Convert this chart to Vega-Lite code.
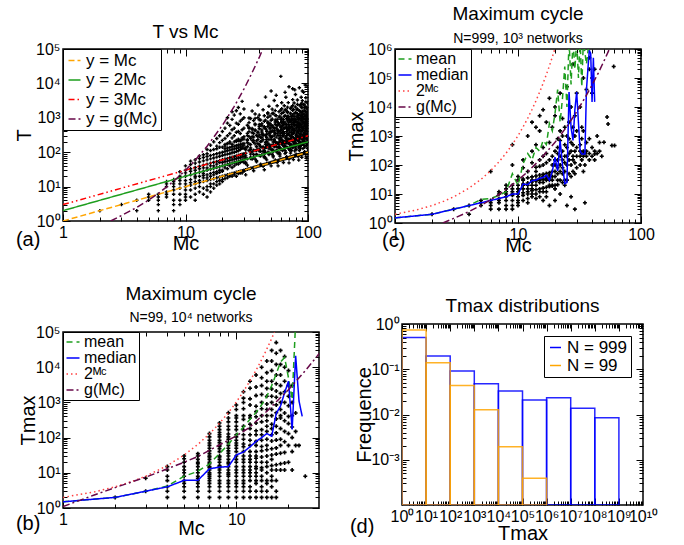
{
"$schema":"https://vega.github.io/schema/vega-lite/v6.json",
"background":"white",
"padding":{"left":13,"top":3,"right":5,"bottom":3},
"config":{
 "font":"Liberation Sans",
 "view":{"stroke":"black","strokeWidth":1.5},
 "axis":{"domain":false,"grid":false,"labelFont":"Liberation Sans","labelFontSize":16,"labelColor":"black","labelPadding":3,"labelOverlap":false,"labelFlush":false,"labelBound":false,"tickColor":"black","tickWidth":1,"titleFont":"Liberation Sans","titleFontSize":20,"titleFontWeight":"normal","titleColor":"black"},
 "title":{"font":"Liberation Sans","fontSize":19,"fontWeight":"normal","color":"black","subtitleFont":"Liberation Sans","subtitleFontSize":14,"subtitleColor":"black","frame":"group","anchor":"middle"},
 "legend":{"labelFont":"Liberation Sans","labelColor":"black","strokeColor":"black","fillColor":"white","padding":3,"symbolType":"stroke","symbolStrokeWidth":1.5,"labelOffset":3}
},
"datasets":{
"ptsA":[
{"x":2,"y":2},{"x":3,"y":3},{"x":4,"y":4},{"x":4,"y":2},{"x":5,"y":5},{"x":5,"y":6},{"x":5,"y":4},
{"x":6,"y":6},{"x":6,"y":5},{"x":6,"y":4},{"x":6,"y":3},{"x":6,"y":2},
{"x":7,"y":7},{"x":7,"y":14},{"x":7,"y":12},{"x":7,"y":10},{"x":7,"y":6},{"x":7,"y":5},
{"x":8,"y":8},{"x":8,"y":16},{"x":8,"y":14},{"x":8,"y":10},{"x":8,"y":6},{"x":8,"y":4},{"x":8,"y":2},{"x":8,"y":12},{"x":8,"y":3},
{"x":9,"y":9},{"x":9,"y":18},{"x":9,"y":27},{"x":9,"y":12},{"x":9,"y":15},{"x":9,"y":6},{"x":9,"y":4},{"x":9,"y":3},{"x":9,"y":20},
{"x":10,"y":10},{"x":10,"y":20},{"x":10,"y":30},{"x":10,"y":15},{"x":10,"y":12},{"x":10,"y":8},{"x":10,"y":5},{"x":10,"y":25},{"x":10,"y":6},{"x":10,"y":40},{"x":10,"y":4},
{"x":11,"y":11},{"x":11,"y":22},{"x":11,"y":33},{"x":11,"y":16},{"x":11,"y":8},{"x":11,"y":5},{"x":11,"y":44},{"x":11,"y":13},{"x":11,"y":28},{"x":11,"y":55},
{"x":12,"y":12},{"x":12,"y":24},{"x":12,"y":36},{"x":12,"y":18},{"x":12,"y":9},{"x":12,"y":6},{"x":12,"y":60},{"x":12,"y":14},{"x":12,"y":30},{"x":12,"y":48},{"x":12,"y":20},{"x":12,"y":4},
{"x":13,"y":13},{"x":13,"y":26},{"x":13,"y":39},{"x":13,"y":20},{"x":13,"y":10},{"x":13,"y":7},{"x":13,"y":52},{"x":13,"y":65},{"x":13,"y":15},{"x":13,"y":33},{"x":13,"y":78},
{"x":14,"y":14},{"x":14,"y":28},{"x":14,"y":42},{"x":14,"y":21},{"x":14,"y":9},{"x":14,"y":70},{"x":14,"y":56},{"x":14,"y":84},{"x":14,"y":18},{"x":14,"y":35},{"x":14,"y":24},{"x":14,"y":6},
{"x":15,"y":15},{"x":15,"y":30},{"x":15,"y":45},{"x":15,"y":22},{"x":15,"y":10},{"x":15,"y":8},{"x":15,"y":60},{"x":15,"y":90},{"x":15,"y":120},{"x":15,"y":35},{"x":15,"y":75},{"x":15,"y":18},{"x":15,"y":5},
{"x":16,"y":16},{"x":16,"y":32},{"x":16,"y":48},{"x":16,"y":24},{"x":16,"y":12},{"x":16,"y":80},{"x":16,"y":64},{"x":16,"y":112},{"x":16,"y":160},{"x":16,"y":40},{"x":16,"y":20},{"x":16,"y":10},{"x":16,"y":7},
{"x":17,"y":17},{"x":17,"y":34},{"x":17,"y":51},{"x":17,"y":26},{"x":17,"y":12},{"x":17,"y":85},{"x":17,"y":68},{"x":17,"y":120},{"x":17,"y":200},{"x":17,"y":40},{"x":17,"y":22},{"x":17,"y":9},
{"x":18,"y":18},{"x":18,"y":36},{"x":18,"y":54},{"x":18,"y":27},{"x":18,"y":14},{"x":18,"y":90},{"x":18,"y":72},{"x":18,"y":126},{"x":18,"y":150},{"x":18,"y":250},{"x":18,"y":45},{"x":18,"y":24},{"x":18,"y":11},
{"x":19,"y":19},{"x":19,"y":38},{"x":19,"y":57},{"x":19,"y":30},{"x":19,"y":15},{"x":19,"y":95},{"x":19,"y":76},{"x":19,"y":140},{"x":19,"y":190},{"x":19,"y":300},{"x":19,"y":50},{"x":19,"y":26},{"x":19,"y":12},
{"x":20,"y":20},{"x":20,"y":40},{"x":20,"y":60},{"x":20,"y":30},{"x":20,"y":16},{"x":20,"y":100},{"x":20,"y":80},{"x":20,"y":140},{"x":20,"y":220},{"x":20,"y":400},{"x":20,"y":50},{"x":20,"y":28},{"x":20,"y":14},
{"x":21,"y":21},{"x":21,"y":42},{"x":21,"y":63},{"x":21,"y":35},{"x":21,"y":105},{"x":21,"y":150},{"x":21,"y":250},{"x":21,"y":500},{"x":21,"y":17},{"x":21,"y":84},{"x":21,"y":53},{"x":21,"y":126},{"x":21,"y":168},
{"x":22,"y":22},{"x":22,"y":44},{"x":22,"y":66},{"x":22,"y":33},{"x":22,"y":110},{"x":22,"y":180},{"x":22,"y":300},{"x":22,"y":700},{"x":22,"y":18},{"x":22,"y":88},{"x":22,"y":1000},{"x":22,"y":55},{"x":22,"y":132},{"x":22,"y":176},
{"x":23,"y":23},{"x":23,"y":46},{"x":23,"y":69},{"x":23,"y":40},{"x":23,"y":115},{"x":23,"y":200},{"x":23,"y":350},{"x":23,"y":600},{"x":23,"y":20},{"x":23,"y":90},{"x":23,"y":58},{"x":23,"y":138},{"x":23,"y":184},
{"x":24,"y":24},{"x":24,"y":48},{"x":24,"y":72},{"x":24,"y":36},{"x":24,"y":120},{"x":24,"y":170},{"x":24,"y":260},{"x":24,"y":450},{"x":24,"y":900},{"x":24,"y":20},{"x":24,"y":1500},{"x":24,"y":60},{"x":24,"y":96},{"x":24,"y":144},
{"x":25,"y":25},{"x":25,"y":50},{"x":25,"y":75},{"x":25,"y":40},{"x":25,"y":125},{"x":25,"y":200},{"x":25,"y":300},{"x":25,"y":500},{"x":25,"y":1200},{"x":25,"y":22},{"x":25,"y":100},{"x":25,"y":63},{"x":25,"y":150},
{"x":26,"y":26},{"x":26,"y":52},{"x":26,"y":78},{"x":26,"y":45},{"x":26,"y":130},{"x":26,"y":220},{"x":26,"y":380},{"x":26,"y":700},{"x":26,"y":1600},{"x":26,"y":20},{"x":26,"y":104},{"x":26,"y":65},{"x":26,"y":156},{"x":26,"y":208},
{"x":27,"y":27},{"x":27,"y":54},{"x":27,"y":81},{"x":27,"y":45},{"x":27,"y":140},{"x":27,"y":240},{"x":27,"y":400},{"x":27,"y":650},{"x":27,"y":2000},{"x":27,"y":24},{"x":27,"y":110},{"x":27,"y":68},{"x":27,"y":162},{"x":27,"y":216},
{"x":28,"y":28},{"x":28,"y":56},{"x":28,"y":84},{"x":28,"y":50},{"x":28,"y":140},{"x":28,"y":210},{"x":28,"y":350},{"x":28,"y":800},{"x":28,"y":1300},{"x":28,"y":25},{"x":28,"y":120},{"x":28,"y":70},{"x":28,"y":168},{"x":28,"y":224},
{"x":29,"y":29},{"x":29,"y":58},{"x":29,"y":87},{"x":29,"y":55},{"x":29,"y":150},{"x":29,"y":260},{"x":29,"y":450},{"x":29,"y":900},{"x":29,"y":3000},{"x":29,"y":25},{"x":29,"y":130},{"x":29,"y":73},{"x":29,"y":174},{"x":29,"y":232},
{"x":30,"y":30},{"x":30,"y":60},{"x":30,"y":90},{"x":30,"y":50},{"x":30,"y":160},{"x":30,"y":280},{"x":30,"y":500},{"x":30,"y":1000},{"x":30,"y":1800},{"x":30,"y":28},{"x":30,"y":130},{"x":30,"y":75},{"x":30,"y":180},{"x":30,"y":240},
{"x":31,"y":31},{"x":31,"y":22},{"x":31,"y":50},{"x":31,"y":78},{"x":31,"y":133},{"x":31,"y":93},{"x":31,"y":47},{"x":31,"y":68},{"x":31,"y":118},
{"x":32,"y":32},{"x":32,"y":218},{"x":32,"y":352},{"x":32,"y":608},{"x":32,"y":42},{"x":32,"y":64},{"x":32,"y":144},{"x":32,"y":189},{"x":32,"y":230},{"x":32,"y":304},
{"x":33,"y":33},{"x":33,"y":112},{"x":33,"y":172},{"x":33,"y":287},{"x":33,"y":495},{"x":33,"y":396},{"x":33,"y":528},{"x":33,"y":726},{"x":33,"y":990},
{"x":34,"y":34},{"x":34,"y":952},{"x":34,"y":71},{"x":34,"y":133},{"x":34,"y":252},{"x":34,"y":102},{"x":34,"y":65},{"x":34,"y":88},{"x":34,"y":119},{"x":34,"y":167},
{"x":35,"y":35},{"x":35,"y":455},{"x":35,"y":1575},{"x":35,"y":63},{"x":35,"y":102},{"x":35,"y":221},{"x":35,"y":280},{"x":35,"y":368},{"x":35,"y":490},
{"x":36,"y":36},{"x":36,"y":220},{"x":36,"y":353},{"x":36,"y":828},{"x":36,"y":29},{"x":36,"y":72},{"x":36,"y":86},{"x":36,"y":115},{"x":36,"y":194},{"x":36,"y":277},
{"x":37,"y":37},{"x":37,"y":174},{"x":37,"y":444},{"x":37,"y":629},{"x":37,"y":1295},{"x":37,"y":111},{"x":37,"y":426},{"x":37,"y":666},{"x":37,"y":962},{"x":37,"y":63},
{"x":38,"y":38},{"x":38,"y":87},{"x":38,"y":213},{"x":38,"y":312},{"x":38,"y":53},{"x":38,"y":57},{"x":38,"y":84},{"x":38,"y":114},{"x":38,"y":144},
{"x":39,"y":39},{"x":39,"y":121},{"x":39,"y":390},{"x":39,"y":1014},{"x":39,"y":2340},{"x":39,"y":176},{"x":39,"y":230},{"x":39,"y":281},{"x":39,"y":371},
{"x":40,"y":40},{"x":40,"y":108},{"x":40,"y":164},{"x":40,"y":316},{"x":40,"y":560},{"x":40,"y":120},{"x":40,"y":80},{"x":40,"y":480},{"x":40,"y":640},{"x":40,"y":880},{"x":40,"y":1200},
{"x":41,"y":41},{"x":41,"y":45},{"x":41,"y":148},{"x":41,"y":267},{"x":41,"y":861},{"x":41,"y":78},{"x":41,"y":107},{"x":41,"y":144},{"x":41,"y":201},
{"x":42,"y":42},{"x":42,"y":84},{"x":42,"y":210},{"x":42,"y":386},{"x":42,"y":672},{"x":42,"y":265},{"x":42,"y":336},{"x":42,"y":441},{"x":42,"y":588},
{"x":43,"y":43},{"x":43,"y":1720},{"x":43,"y":142},{"x":43,"y":39},{"x":43,"y":305},{"x":43,"y":129},{"x":43,"y":103},{"x":43,"y":138},{"x":43,"y":232},{"x":43,"y":331},
{"x":44,"y":44},{"x":44,"y":550},{"x":44,"y":31},{"x":44,"y":70},{"x":44,"y":110},{"x":44,"y":88},{"x":44,"y":506},{"x":44,"y":792},{"x":44,"y":1144},{"x":44,"y":75},
{"x":45,"y":45},{"x":45,"y":194},{"x":45,"y":306},{"x":45,"y":495},{"x":45,"y":855},{"x":45,"y":4000},{"x":45,"y":68},{"x":45,"y":99},{"x":45,"y":135},{"x":45,"y":171},
{"x":46,"y":46},{"x":46,"y":60},{"x":46,"y":156},{"x":46,"y":239},{"x":46,"y":400},{"x":46,"y":138},{"x":46,"y":207},{"x":46,"y":271},{"x":46,"y":331},{"x":46,"y":437},
{"x":47,"y":47},{"x":47,"y":705},{"x":47,"y":1316},{"x":47,"y":99},{"x":47,"y":183},{"x":47,"y":564},{"x":47,"y":752},{"x":47,"y":1034},{"x":47,"y":1410},
{"x":48,"y":48},{"x":48,"y":355},{"x":48,"y":624},{"x":48,"y":2160},{"x":48,"y":86},{"x":48,"y":96},{"x":48,"y":91},{"x":48,"y":125},{"x":48,"y":168},{"x":48,"y":235},
{"x":49,"y":49},{"x":49,"y":142},{"x":49,"y":299},{"x":49,"y":480},{"x":49,"y":1127},{"x":49,"y":147},{"x":49,"y":309},{"x":49,"y":392},{"x":49,"y":515},{"x":49,"y":686},
{"x":50,"y":50},{"x":50,"y":40},{"x":50,"y":235},{"x":50,"y":600},{"x":50,"y":850},{"x":50,"y":6000},{"x":50,"y":120},{"x":50,"y":160},{"x":50,"y":270},{"x":50,"y":385},
{"x":51,"y":51},{"x":51,"y":1785},{"x":51,"y":117},{"x":51,"y":286},{"x":51,"y":418},{"x":51,"y":587},{"x":51,"y":918},{"x":51,"y":1326},{"x":51,"y":87},
{"x":52,"y":52},{"x":52,"y":73},{"x":52,"y":161},{"x":52,"y":520},{"x":52,"y":1352},{"x":52,"y":156},{"x":52,"y":104},{"x":52,"y":78},{"x":52,"y":114},{"x":52,"y":198},
{"x":53,"y":53},{"x":53,"y":3180},{"x":53,"y":143},{"x":53,"y":217},{"x":53,"y":419},{"x":53,"y":239},{"x":53,"y":313},{"x":53,"y":382},{"x":53,"y":504},
{"x":54,"y":54},{"x":54,"y":756},{"x":54,"y":59},{"x":54,"y":194},{"x":54,"y":351},{"x":54,"y":648},{"x":54,"y":864},{"x":54,"y":1188},{"x":54,"y":1620},
{"x":55,"y":55},{"x":55,"y":1155},{"x":55,"y":110},{"x":55,"y":275},{"x":55,"y":506},{"x":55,"y":165},{"x":55,"y":4500},{"x":55,"y":105},{"x":55,"y":143},{"x":55,"y":193},
{"x":56,"y":56},{"x":56,"y":896},{"x":56,"y":2240},{"x":56,"y":185},{"x":56,"y":50},{"x":56,"y":112},{"x":56,"y":353},{"x":56,"y":448},{"x":56,"y":588},{"x":56,"y":784},
{"x":57,"y":57},{"x":57,"y":405},{"x":57,"y":712},{"x":57,"y":40},{"x":57,"y":91},{"x":57,"y":137},{"x":57,"y":182},{"x":57,"y":308},{"x":57,"y":439},
{"x":58,"y":58},{"x":58,"y":145},{"x":58,"y":249},{"x":58,"y":394},{"x":58,"y":638},{"x":58,"y":174},{"x":58,"y":667},{"x":58,"y":1044},{"x":58,"y":1508},{"x":58,"y":99},
{"x":59,"y":59},{"x":59,"y":1121},{"x":59,"y":77},{"x":59,"y":201},{"x":59,"y":307},{"x":59,"y":89},{"x":59,"y":130},{"x":59,"y":177},{"x":59,"y":224},
{"x":60,"y":60},{"x":60,"y":522},{"x":60,"y":900},{"x":60,"y":1680},{"x":60,"y":126},{"x":60,"y":120},{"x":60,"y":16000},{"x":60,"y":270},{"x":60,"y":354},{"x":60,"y":432},{"x":60,"y":570},
{"x":61,"y":61},{"x":61,"y":238},{"x":61,"y":451},{"x":61,"y":793},{"x":61,"y":2745},{"x":61,"y":183},{"x":61,"y":732},{"x":61,"y":976},{"x":61,"y":1342},{"x":61,"y":1830},
{"x":62,"y":62},{"x":62,"y":112},{"x":62,"y":180},{"x":62,"y":378},{"x":62,"y":608},{"x":62,"y":118},{"x":62,"y":161},{"x":62,"y":217},{"x":62,"y":304},
{"x":63,"y":63},{"x":63,"y":1449},{"x":63,"y":50},{"x":63,"y":296},{"x":63,"y":756},{"x":63,"y":397},{"x":63,"y":504},{"x":63,"y":662},{"x":63,"y":882},
{"x":64,"y":64},{"x":64,"y":1088},{"x":64,"y":2240},{"x":64,"y":147},{"x":64,"y":358},{"x":64,"y":192},{"x":64,"y":128},{"x":64,"y":154},{"x":64,"y":205},{"x":64,"y":346},{"x":64,"y":493},
{"x":65,"y":65},{"x":65,"y":533},{"x":65,"y":91},{"x":65,"y":202},{"x":65,"y":650},{"x":65,"y":5500},{"x":65,"y":748},{"x":65,"y":1170},{"x":65,"y":1690},{"x":65,"y":111},
{"x":66,"y":66},{"x":66,"y":1716},{"x":66,"y":3960},{"x":66,"y":178},{"x":66,"y":271},{"x":66,"y":99},{"x":66,"y":145},{"x":66,"y":198},{"x":66,"y":251},
{"x":67,"y":67},{"x":67,"y":529},{"x":67,"y":938},{"x":67,"y":74},{"x":67,"y":241},{"x":67,"y":201},{"x":67,"y":302},{"x":67,"y":395},{"x":67,"y":482},{"x":67,"y":637},
{"x":68,"y":68},{"x":68,"y":442},{"x":68,"y":1428},{"x":68,"y":136},{"x":68,"y":340},{"x":68,"y":816},{"x":68,"y":1088},{"x":68,"y":1496},{"x":68,"y":2040},
{"x":69,"y":69},{"x":69,"y":635},{"x":69,"y":1104},{"x":69,"y":2760},{"x":69,"y":228},{"x":69,"y":131},{"x":69,"y":179},{"x":69,"y":242},{"x":69,"y":338},
{"x":70,"y":70},{"x":70,"y":63},{"x":70,"y":497},{"x":70,"y":875},{"x":70,"y":49},{"x":70,"y":210},{"x":70,"y":8000},{"x":70,"y":441},{"x":70,"y":560},{"x":70,"y":735},{"x":70,"y":980},
{"x":71,"y":71},{"x":71,"y":114},{"x":71,"y":178},{"x":71,"y":305},{"x":71,"y":483},{"x":71,"y":170},{"x":71,"y":227},{"x":71,"y":383},{"x":71,"y":547},
{"x":72,"y":72},{"x":72,"y":792},{"x":72,"y":1368},{"x":72,"y":94},{"x":72,"y":245},{"x":72,"y":144},{"x":72,"y":828},{"x":72,"y":1296},{"x":72,"y":1872},{"x":72,"y":122},
{"x":73,"y":73},{"x":73,"y":380},{"x":73,"y":635},{"x":73,"y":1095},{"x":73,"y":2044},{"x":73,"y":219},{"x":73,"y":110},{"x":73,"y":161},{"x":73,"y":277},
{"x":74,"y":74},{"x":74,"y":155},{"x":74,"y":289},{"x":74,"y":548},{"x":74,"y":962},{"x":74,"y":333},{"x":74,"y":437},{"x":74,"y":533},{"x":74,"y":703},
{"x":75,"y":75},{"x":75,"y":3375},{"x":75,"y":135},{"x":75,"y":218},{"x":75,"y":458},{"x":75,"y":7000},{"x":75,"y":900},{"x":75,"y":1200},{"x":75,"y":1650},{"x":75,"y":2250},
{"x":76,"y":76},{"x":76,"y":745},{"x":76,"y":1748},{"x":76,"y":61},{"x":76,"y":357},{"x":76,"y":228},{"x":76,"y":152},{"x":76,"y":144},{"x":76,"y":198},{"x":76,"y":266},{"x":76,"y":372},
{"x":77,"y":77},{"x":77,"y":924},{"x":77,"y":1309},{"x":77,"y":2695},{"x":77,"y":177},{"x":77,"y":485},{"x":77,"y":616},{"x":77,"y":809},{"x":77,"y":1078},
{"x":78,"y":78},{"x":78,"y":437},{"x":78,"y":640},{"x":78,"y":109},{"x":78,"y":242},{"x":78,"y":6500},{"x":78,"y":187},{"x":78,"y":250},{"x":78,"y":421},{"x":78,"y":601},
{"x":79,"y":79},{"x":79,"y":790},{"x":79,"y":2054},{"x":79,"y":4740},{"x":79,"y":213},{"x":79,"y":237},{"x":79,"y":909},{"x":79,"y":1422},{"x":79,"y":134},
{"x":80,"y":80},{"x":80,"y":328},{"x":80,"y":632},{"x":80,"y":1120},{"x":80,"y":88},{"x":80,"y":160},{"x":80,"y":120},{"x":80,"y":176},{"x":80,"y":240},{"x":80,"y":304},
{"x":81,"y":81},{"x":81,"y":292},{"x":81,"y":527},{"x":81,"y":1701},{"x":81,"y":162},{"x":81,"y":365},{"x":81,"y":478},{"x":81,"y":583},{"x":81,"y":770},
{"x":82,"y":82},{"x":82,"y":410},{"x":82,"y":754},{"x":82,"y":1312},{"x":82,"y":3280},{"x":82,"y":246},{"x":82,"y":984},{"x":82,"y":1804},{"x":82,"y":2460},
{"x":83,"y":83},{"x":83,"y":274},{"x":83,"y":75},{"x":83,"y":589},{"x":83,"y":1038},{"x":83,"y":158},{"x":83,"y":216},{"x":83,"y":291},{"x":83,"y":407},
{"x":84,"y":84},{"x":84,"y":59},{"x":84,"y":134},{"x":84,"y":210},{"x":84,"y":361},{"x":84,"y":168},{"x":84,"y":529},{"x":84,"y":672},{"x":84,"y":882},{"x":84,"y":1176},
{"x":85,"y":85},{"x":85,"y":578},{"x":85,"y":935},{"x":85,"y":1615},{"x":85,"y":111},{"x":85,"y":255},{"x":85,"y":7500},{"x":85,"y":204},{"x":85,"y":272},{"x":85,"y":459},{"x":85,"y":655},
{"x":86,"y":86},{"x":86,"y":292},{"x":86,"y":447},{"x":86,"y":748},{"x":86,"y":1290},{"x":86,"y":989},{"x":86,"y":1548},{"x":86,"y":2236},{"x":86,"y":146},
{"x":87,"y":87},{"x":87,"y":2436},{"x":87,"y":183},{"x":87,"y":339},{"x":87,"y":644},{"x":87,"y":131},{"x":87,"y":191},{"x":87,"y":261},{"x":87,"y":331},
{"x":88,"y":88},{"x":88,"y":1144},{"x":88,"y":3960},{"x":88,"y":158},{"x":88,"y":255},{"x":88,"y":264},{"x":88,"y":176},{"x":88,"y":396},{"x":88,"y":519},{"x":88,"y":634},{"x":88,"y":836},
{"x":89,"y":89},{"x":89,"y":543},{"x":89,"y":872},{"x":89,"y":2047},{"x":89,"y":71},{"x":89,"y":1068},{"x":89,"y":1424},{"x":89,"y":1958},{"x":89,"y":2670},
{"x":90,"y":90},{"x":90,"y":423},{"x":90,"y":1080},{"x":90,"y":1530},{"x":90,"y":3150},{"x":90,"y":6000},{"x":90,"y":171},{"x":90,"y":234},{"x":90,"y":315},{"x":90,"y":441},
{"x":91,"y":91},{"x":91,"y":209},{"x":91,"y":510},{"x":91,"y":746},{"x":91,"y":127},{"x":91,"y":273},{"x":91,"y":573},{"x":91,"y":728},{"x":91,"y":956},{"x":91,"y":1274},
{"x":92,"y":92},{"x":92,"y":285},{"x":92,"y":920},{"x":92,"y":2392},{"x":92,"y":5520},{"x":92,"y":184},{"x":92,"y":221},{"x":92,"y":294},{"x":92,"y":497},{"x":92,"y":708},
{"x":93,"y":93},{"x":93,"y":251},{"x":93,"y":381},{"x":93,"y":735},{"x":93,"y":1302},{"x":93,"y":1070},{"x":93,"y":1674},{"x":93,"y":2418},{"x":93,"y":158},
{"x":94,"y":94},{"x":94,"y":103},{"x":94,"y":338},{"x":94,"y":611},{"x":94,"y":1974},{"x":94,"y":282},{"x":94,"y":141},{"x":94,"y":207},{"x":94,"y":357},
{"x":95,"y":95},{"x":95,"y":190},{"x":95,"y":475},{"x":95,"y":874},{"x":95,"y":1520},{"x":95,"y":9000},{"x":95,"y":428},{"x":95,"y":561},{"x":95,"y":684},{"x":95,"y":903},
{"x":96,"y":96},{"x":96,"y":3840},{"x":96,"y":317},{"x":96,"y":86},{"x":96,"y":682},{"x":96,"y":192},{"x":96,"y":1152},{"x":96,"y":1536},{"x":96,"y":2112},{"x":96,"y":2880},
{"x":97,"y":97},{"x":97,"y":1212},{"x":97,"y":68},{"x":97,"y":155},{"x":97,"y":243},{"x":97,"y":291},{"x":97,"y":184},{"x":97,"y":252},{"x":97,"y":340},{"x":97,"y":475},
{"x":98,"y":98},{"x":98,"y":421},{"x":98,"y":666},{"x":98,"y":1078},{"x":98,"y":1862},{"x":98,"y":617},{"x":98,"y":784},{"x":98,"y":1029},{"x":98,"y":1372},
{"x":99,"y":99},{"x":99,"y":129},{"x":99,"y":337},{"x":99,"y":515},{"x":99,"y":861},{"x":99,"y":238},{"x":99,"y":317},{"x":99,"y":535},{"x":99,"y":762},
{"x":100,"y":100},{"x":100,"y":1500},{"x":100,"y":2800},{"x":100,"y":210},{"x":100,"y":390},{"x":100,"y":300},{"x":100,"y":200},{"x":100,"y":8000},{"x":100,"y":1150},{"x":100,"y":1800},{"x":100,"y":2600},{"x":100,"y":170}
],
"curA":[
{"s":"y = Mc","x":1,"y":1},{"s":"y = Mc","x":100,"y":100},
{"s":"y = 2Mc","x":1,"y":2},{"s":"y = 2Mc","x":100,"y":200},
{"s":"y = 3Mc","x":1,"y":3},{"s":"y = 3Mc","x":100,"y":300},
{"s":"y = g(Mc)","x":2.45,"y":1},{"s":"y = g(Mc)","x":3,"y":1.44},{"s":"y = g(Mc)","x":4,"y":2.48},{"s":"y = g(Mc)","x":5,"y":4.05},{"s":"y = g(Mc)","x":6,"y":6.3},{"s":"y = g(Mc)","x":8,"y":14.3},{"s":"y = g(Mc)","x":10,"y":29.8},{"s":"y = g(Mc)","x":12,"y":58.6},{"s":"y = g(Mc)","x":15,"y":149},{"s":"y = g(Mc)","x":20,"y":605},{"s":"y = g(Mc)","x":25,"y":2140},{"s":"y = g(Mc)","x":30,"y":6870},{"s":"y = g(Mc)","x":35,"y":20650},{"s":"y = g(Mc)","x":40,"y":56900},{"s":"y = g(Mc)","x":45,"y":151000}
],
"ptsB":[
{"x":2,"y":2},{"x":3,"y":3},{"x":3,"y":7},
{"x":4,"y":2},{"x":4,"y":3},{"x":4,"y":4},{"x":4,"y":6},{"x":4,"y":8},{"x":4,"y":12},{"x":4,"y":15},
{"x":5,"y":2},{"x":5,"y":3},{"x":5,"y":4},{"x":5,"y":5},{"x":5,"y":6},{"x":5,"y":8},{"x":5,"y":10},{"x":5,"y":12},{"x":5,"y":15},{"x":5,"y":20},{"x":5,"y":25},{"x":5,"y":30},
{"x":6,"y":2},{"x":6,"y":3},{"x":6,"y":4},{"x":6,"y":5},{"x":6,"y":6},{"x":6,"y":7},{"x":6,"y":8},{"x":6,"y":10},{"x":6,"y":12},{"x":6,"y":15},{"x":6,"y":18},{"x":6,"y":20},{"x":6,"y":24},{"x":6,"y":30},{"x":6,"y":35},
{"x":7,"y":2},{"x":7,"y":3},{"x":7,"y":4},{"x":7,"y":5},{"x":7,"y":6},{"x":7,"y":7},{"x":7,"y":8},{"x":7,"y":9},{"x":7,"y":10},{"x":7,"y":12},{"x":7,"y":14},{"x":7,"y":15},{"x":7,"y":18},{"x":7,"y":20},{"x":7,"y":24},{"x":7,"y":28},{"x":7,"y":30},{"x":7,"y":35},{"x":7,"y":42},{"x":7,"y":50},{"x":7,"y":60},{"x":7,"y":70},{"x":7,"y":84},{"x":7,"y":105},{"x":7,"y":130},
{"x":8,"y":2},{"x":8,"y":3},{"x":8,"y":4},{"x":8,"y":5},{"x":8,"y":6},{"x":8,"y":8},{"x":8,"y":10},{"x":8,"y":12},{"x":8,"y":14},{"x":8,"y":15},{"x":8,"y":16},{"x":8,"y":20},{"x":8,"y":24},{"x":8,"y":28},{"x":8,"y":30},{"x":8,"y":40},{"x":8,"y":48},{"x":8,"y":56},{"x":8,"y":60},{"x":8,"y":72},{"x":8,"y":84},{"x":8,"y":105},{"x":8,"y":120},{"x":8,"y":140},{"x":8,"y":168},{"x":8,"y":210},{"x":8,"y":260},
{"x":9,"y":2},{"x":9,"y":3},{"x":9,"y":4},{"x":9,"y":5},{"x":9,"y":6},{"x":9,"y":8},{"x":9,"y":9},{"x":9,"y":10},{"x":9,"y":12},{"x":9,"y":15},{"x":9,"y":18},{"x":9,"y":20},{"x":9,"y":24},{"x":9,"y":30},{"x":9,"y":36},{"x":9,"y":42},{"x":9,"y":50},{"x":9,"y":60},{"x":9,"y":72},{"x":9,"y":90},{"x":9,"y":105},{"x":9,"y":126},{"x":9,"y":168},{"x":9,"y":210},{"x":9,"y":280},{"x":9,"y":360},{"x":9,"y":504},
{"x":10,"y":2},{"x":10,"y":3},{"x":10,"y":4},{"x":10,"y":5},{"x":10,"y":6},{"x":10,"y":8},{"x":10,"y":10},{"x":10,"y":12},{"x":10,"y":15},{"x":10,"y":20},{"x":10,"y":24},{"x":10,"y":30},{"x":10,"y":40},{"x":10,"y":50},{"x":10,"y":60},{"x":10,"y":70},{"x":10,"y":84},{"x":10,"y":105},{"x":10,"y":120},{"x":10,"y":168},{"x":10,"y":210},{"x":10,"y":280},{"x":10,"y":360},{"x":10,"y":420},{"x":10,"y":630},{"x":10,"y":840},
{"x":11,"y":2},{"x":11,"y":3},{"x":11,"y":4},{"x":11,"y":5},{"x":11,"y":6},{"x":11,"y":8},{"x":11,"y":10},{"x":11,"y":12},{"x":11,"y":15},{"x":11,"y":20},{"x":11,"y":24},{"x":11,"y":30},{"x":11,"y":40},{"x":11,"y":55},{"x":11,"y":66},{"x":11,"y":90},{"x":11,"y":120},{"x":11,"y":165},{"x":11,"y":210},{"x":11,"y":330},{"x":11,"y":420},{"x":11,"y":660},{"x":11,"y":990},{"x":11,"y":1320},{"x":11,"y":2000},
{"x":12,"y":2},{"x":12,"y":3},{"x":12,"y":4},{"x":12,"y":6},{"x":12,"y":8},{"x":12,"y":10},{"x":12,"y":12},{"x":12,"y":15},{"x":12,"y":20},{"x":12,"y":24},{"x":12,"y":30},{"x":12,"y":40},{"x":12,"y":60},{"x":12,"y":84},{"x":12,"y":120},{"x":12,"y":180},{"x":12,"y":240},{"x":12,"y":360},{"x":12,"y":420},{"x":12,"y":840},{"x":12,"y":1260},{"x":12,"y":2520},{"x":12,"y":4000},
{"x":13,"y":2},{"x":13,"y":3},{"x":13,"y":5},{"x":13,"y":6},{"x":13,"y":8},{"x":13,"y":10},{"x":13,"y":13},{"x":13,"y":15},{"x":13,"y":20},{"x":13,"y":26},{"x":13,"y":30},{"x":13,"y":40},{"x":13,"y":60},{"x":13,"y":78},{"x":13,"y":120},{"x":13,"y":156},{"x":13,"y":260},{"x":13,"y":390},{"x":13,"y":546},{"x":13,"y":780},{"x":13,"y":1560},{"x":13,"y":2730},{"x":13,"y":6000},
{"x":14,"y":2},{"x":14,"y":3},{"x":14,"y":4},{"x":14,"y":6},{"x":14,"y":8},{"x":14,"y":12},{"x":14,"y":14},{"x":14,"y":20},{"x":14,"y":28},{"x":14,"y":42},{"x":14,"y":56},{"x":14,"y":84},{"x":14,"y":120},{"x":14,"y":168},{"x":14,"y":280},{"x":14,"y":420},{"x":14,"y":660},{"x":14,"y":1000},{"x":14,"y":1680},{"x":14,"y":3000},{"x":14,"y":5000},{"x":14,"y":10000},
{"x":15,"y":2},{"x":15,"y":3},{"x":15,"y":5},{"x":15,"y":6},{"x":15,"y":10},{"x":15,"y":15},{"x":15,"y":20},{"x":15,"y":30},{"x":15,"y":45},{"x":15,"y":60},{"x":15,"y":90},{"x":15,"y":150},{"x":15,"y":210},{"x":15,"y":300},{"x":15,"y":420},{"x":15,"y":630},{"x":15,"y":900},{"x":15,"y":1500},{"x":15,"y":2500},{"x":15,"y":4000},{"x":15,"y":7000},{"x":15,"y":15000},
{"x":16,"y":2},{"x":16,"y":4},{"x":16,"y":6},{"x":16,"y":8},{"x":16,"y":12},{"x":16,"y":16},{"x":16,"y":24},{"x":16,"y":32},{"x":16,"y":48},{"x":16,"y":80},{"x":16,"y":120},{"x":16,"y":180},{"x":16,"y":240},{"x":16,"y":420},{"x":16,"y":630},{"x":16,"y":1000},{"x":16,"y":1500},{"x":16,"y":2400},{"x":16,"y":4000},{"x":16,"y":8000},{"x":16,"y":15000},{"x":16,"y":30000},
{"x":17,"y":2},{"x":17,"y":3},{"x":17,"y":6},{"x":17,"y":12},{"x":17,"y":17},{"x":17,"y":34},{"x":17,"y":51},{"x":17,"y":85},{"x":17,"y":136},{"x":17,"y":210},{"x":17,"y":340},{"x":17,"y":510},{"x":17,"y":850},{"x":17,"y":1400},{"x":17,"y":2100},{"x":17,"y":3400},{"x":17,"y":6000},{"x":17,"y":12000},{"x":17,"y":25000},{"x":17,"y":50000},
{"x":18,"y":12},{"x":18,"y":18},{"x":18,"y":36},{"x":18,"y":60},{"x":18,"y":90},{"x":18,"y":180},{"x":18,"y":360},{"x":18,"y":420},{"x":18,"y":630},{"x":18,"y":1000},{"x":18,"y":1800},{"x":18,"y":3000},{"x":18,"y":6000},{"x":18,"y":12000},{"x":18,"y":30000},
{"x":19,"y":12},{"x":19,"y":19},{"x":19,"y":38},{"x":19,"y":76},{"x":19,"y":150},{"x":19,"y":300},{"x":19,"y":500},{"x":19,"y":1000},{"x":19,"y":2000},{"x":19,"y":4000},{"x":19,"y":10000},{"x":19,"y":20000},
{"x":20,"y":20},{"x":20,"y":60},{"x":20,"y":130},{"x":20,"y":250},{"x":20,"y":400},{"x":20,"y":800},{"x":20,"y":1500},{"x":20,"y":3000},{"x":20,"y":8000},
{"x":21,"y":12},{"x":21,"y":40},{"x":21,"y":100},{"x":21,"y":200},{"x":21,"y":420},{"x":21,"y":1000},{"x":21,"y":3000},
{"x":22,"y":60},{"x":22,"y":150},{"x":22,"y":500},{"x":23,"y":60},{"x":25,"y":8}
],
"curB":[
{"s":"mean","x":1,"y":1.5},{"s":"mean","x":2,"y":2},{"s":"mean","x":3,"y":3},{"s":"mean","x":4,"y":4.2},{"s":"mean","x":5,"y":8},{"s":"mean","x":6,"y":11},{"s":"mean","x":7,"y":18},{"s":"mean","x":8,"y":35},{"s":"mean","x":9,"y":65},{"s":"mean","x":10,"y":120},{"s":"mean","x":11,"y":200},{"s":"mean","x":12,"y":330},{"s":"mean","x":13,"y":520},{"s":"mean","x":14,"y":850},{"s":"mean","x":15,"y":1500},{"s":"mean","x":16,"y":3000},{"s":"mean","x":17,"y":6500},{"s":"mean","x":18,"y":14000},{"s":"mean","x":19,"y":19000},{"s":"mean","x":20,"y":5000},{"s":"mean","x":21,"y":1200},{"s":"mean","x":22,"y":200000},
{"s":"median","x":1,"y":1.5},{"s":"median","x":2,"y":2},{"s":"median","x":3,"y":3},{"s":"median","x":4,"y":4},{"s":"median","x":5,"y":6.1},{"s":"median","x":6,"y":6.1},{"s":"median","x":7,"y":13},{"s":"median","x":8,"y":14.5},{"s":"median","x":9,"y":15},{"s":"median","x":10,"y":32},{"s":"median","x":11,"y":39},{"s":"median","x":12,"y":55},{"s":"median","x":13,"y":78},{"s":"median","x":14,"y":100},{"s":"median","x":15,"y":130},{"s":"median","x":16,"y":110},{"s":"median","x":17,"y":480},{"s":"median","x":18,"y":790},{"s":"median","x":19,"y":1900},{"s":"median","x":20,"y":4000},{"s":"median","x":21,"y":170},{"s":"median","x":22,"y":21000},{"s":"median","x":23,"y":1100},{"s":"median","x":24,"y":400},
{"s":"2ᴹᶜ","x":1,"y":2},{"s":"2ᴹᶜ","x":1.5,"y":2.83},{"s":"2ᴹᶜ","x":2,"y":4},{"s":"2ᴹᶜ","x":2.5,"y":5.66},{"s":"2ᴹᶜ","x":3,"y":8},{"s":"2ᴹᶜ","x":4,"y":16},{"s":"2ᴹᶜ","x":5,"y":32},{"s":"2ᴹᶜ","x":6,"y":64},{"s":"2ᴹᶜ","x":7,"y":128},{"s":"2ᴹᶜ","x":8,"y":256},{"s":"2ᴹᶜ","x":9,"y":512},{"s":"2ᴹᶜ","x":10,"y":1024},{"s":"2ᴹᶜ","x":11,"y":2048},{"s":"2ᴹᶜ","x":12,"y":4096},{"s":"2ᴹᶜ","x":13,"y":8192},{"s":"2ᴹᶜ","x":14,"y":16384},{"s":"2ᴹᶜ","x":15,"y":32768},{"s":"2ᴹᶜ","x":16,"y":65536},{"s":"2ᴹᶜ","x":16.6,"y":99334},
{"s":"g(Mc)","x":1,"y":1.1},{"s":"g(Mc)","x":1.5,"y":2.3},{"s":"g(Mc)","x":2,"y":3.8},{"s":"g(Mc)","x":3,"y":7.5},{"s":"g(Mc)","x":4,"y":13},{"s":"g(Mc)","x":5,"y":20},{"s":"g(Mc)","x":6,"y":29},{"s":"g(Mc)","x":8,"y":62},{"s":"g(Mc)","x":10,"y":112},{"s":"g(Mc)","x":12,"y":200},{"s":"g(Mc)","x":15,"y":560},{"s":"g(Mc)","x":20,"y":2300},{"s":"g(Mc)","x":25,"y":7900},{"s":"g(Mc)","x":30,"y":24000},{"s":"g(Mc)","x":31,"y":29000}
],
"ptsC":[
{"x":2,"y":2},{"x":3,"y":3},{"x":4,"y":4},{"x":4,"y":2},{"x":5,"y":5},{"x":5,"y":6},{"x":5,"y":4},
{"x":6,"y":6},{"x":6,"y":5},{"x":6,"y":4},{"x":6,"y":3},{"x":6,"y":60},
{"x":7,"y":7},{"x":7,"y":6},{"x":7,"y":12},{"x":7,"y":10},{"x":7,"y":5},{"x":7,"y":3},
{"x":8,"y":8},{"x":8,"y":6},{"x":8,"y":12},{"x":8,"y":15},{"x":8,"y":10},{"x":8,"y":4},{"x":8,"y":3},{"x":8,"y":20},
{"x":9,"y":9},{"x":9,"y":10},{"x":9,"y":12},{"x":9,"y":15},{"x":9,"y":20},{"x":9,"y":6},{"x":9,"y":4},{"x":9,"y":3},{"x":9,"y":500},{"x":9,"y":100},
{"x":10,"y":10},{"x":10,"y":12},{"x":10,"y":15},{"x":10,"y":20},{"x":10,"y":30},{"x":10,"y":40},{"x":10,"y":6},{"x":10,"y":5},{"x":10,"y":4},{"x":10,"y":8},
{"x":11,"y":11},{"x":11,"y":20},{"x":11,"y":30},{"x":11,"y":22},{"x":11,"y":33},{"x":11,"y":15},{"x":11,"y":9},{"x":11,"y":6},{"x":11,"y":150},{"x":11,"y":80},
{"x":12,"y":12},{"x":12,"y":24},{"x":12,"y":36},{"x":12,"y":20},{"x":12,"y":15},{"x":12,"y":10},{"x":12,"y":7},{"x":12,"y":5},{"x":12,"y":1000},{"x":12,"y":60},
{"x":13,"y":13},{"x":13,"y":26},{"x":13,"y":39},{"x":13,"y":30},{"x":13,"y":20},{"x":13,"y":15},{"x":13,"y":10},{"x":13,"y":8},{"x":13,"y":120},{"x":13,"y":3000},{"x":13,"y":300},
{"x":14,"y":14},{"x":14,"y":28},{"x":14,"y":42},{"x":14,"y":30},{"x":14,"y":20},{"x":14,"y":10},{"x":14,"y":7},{"x":14,"y":60},{"x":14,"y":84},{"x":14,"y":500},{"x":14,"y":2000},
{"x":15,"y":15},{"x":15,"y":30},{"x":15,"y":45},{"x":15,"y":35},{"x":15,"y":25},{"x":15,"y":12},{"x":15,"y":8},{"x":15,"y":90},{"x":15,"y":150},{"x":15,"y":1500},{"x":15,"y":5000},
{"x":16,"y":16},{"x":16,"y":32},{"x":16,"y":48},{"x":16,"y":40},{"x":16,"y":25},{"x":16,"y":12},{"x":16,"y":6},{"x":16,"y":100},{"x":16,"y":200},{"x":16,"y":400},{"x":16,"y":8000},
{"x":17,"y":17},{"x":17,"y":34},{"x":17,"y":51},{"x":17,"y":40},{"x":17,"y":30},{"x":17,"y":12},{"x":17,"y":8},{"x":17,"y":120},{"x":17,"y":250},{"x":17,"y":3000},
{"x":18,"y":18},{"x":18,"y":36},{"x":18,"y":54},{"x":18,"y":45},{"x":18,"y":30},{"x":18,"y":20},{"x":18,"y":4},{"x":18,"y":150},{"x":18,"y":600},{"x":18,"y":20000},
{"x":19,"y":19},{"x":19,"y":40},{"x":19,"y":60},{"x":19,"y":30},{"x":19,"y":100},{"x":19,"y":200},{"x":19,"y":20},{"x":19,"y":2000},
{"x":20,"y":20},{"x":20,"y":40},{"x":20,"y":60},{"x":20,"y":100},{"x":20,"y":150},{"x":20,"y":300},{"x":20,"y":15},{"x":20,"y":6},{"x":20,"y":5000},{"x":20,"y":10000},
{"x":21,"y":21},{"x":21,"y":50},{"x":21,"y":80},{"x":21,"y":150},{"x":21,"y":250},{"x":21,"y":400},{"x":21,"y":30},{"x":21,"y":800},
{"x":22,"y":30},{"x":22,"y":60},{"x":22,"y":100},{"x":22,"y":200},{"x":22,"y":700},{"x":22,"y":1500},{"x":22,"y":30000},{"x":22,"y":10},
{"x":23,"y":25},{"x":23,"y":50},{"x":23,"y":80},{"x":23,"y":150},{"x":23,"y":300},{"x":23,"y":1000},{"x":23,"y":4000},
{"x":24,"y":30},{"x":24,"y":60},{"x":24,"y":120},{"x":24,"y":200},{"x":24,"y":500},{"x":24,"y":2000},{"x":24,"y":20},
{"x":25,"y":30},{"x":25,"y":100},{"x":25,"y":200},{"x":25,"y":400},{"x":25,"y":1000},{"x":25,"y":50000},{"x":25,"y":4},
{"x":26,"y":50},{"x":26,"y":150},{"x":26,"y":250},{"x":26,"y":800},{"x":26,"y":3000},
{"x":27,"y":40},{"x":27,"y":100},{"x":27,"y":300},{"x":27,"y":600},{"x":27,"y":10000},{"x":27,"y":8},
{"x":28,"y":60},{"x":28,"y":150},{"x":28,"y":200},{"x":28,"y":500},{"x":28,"y":2000},{"x":28,"y":300000},
{"x":29,"y":50},{"x":29,"y":120},{"x":29,"y":300},{"x":29,"y":1000},{"x":29,"y":5000},{"x":29,"y":3},
{"x":30,"y":80},{"x":30,"y":200},{"x":30,"y":400},{"x":30,"y":1500},{"x":30,"y":30000},
{"x":32,"y":100},{"x":32,"y":300},{"x":32,"y":500},{"x":32,"y":200},{"x":32,"y":10000},
{"x":33,"y":150},{"x":33,"y":250},{"x":33,"y":800},{"x":33,"y":2000},
{"x":34,"y":60},{"x":34,"y":200},{"x":34,"y":300},{"x":34,"y":1500},{"x":34,"y":100000},
{"x":35,"y":100},{"x":35,"y":250},{"x":35,"y":5},
{"x":36,"y":200},{"x":36,"y":300},{"x":36,"y":600},{"x":36,"y":40000},
{"x":38,"y":150},{"x":38,"y":250},{"x":38,"y":800},{"x":38,"y":200000},{"x":38,"y":500000},
{"x":40,"y":200},{"x":40,"y":400},{"x":40,"y":30000},{"x":40,"y":100000},
{"x":42,"y":150},{"x":42,"y":300},{"x":42,"y":200000},{"x":42,"y":240},
{"x":44,"y":250},{"x":44,"y":1000},{"x":46,"y":300},{"x":46,"y":600},{"x":48,"y":200},
{"x":50,"y":610},{"x":53,"y":4500},{"x":54,"y":2600},{"x":58,"y":470},{"x":61,"y":470},{"x":60,"y":250000}
],
"curC":[
{"s":"mean","x":1,"y":1.5},{"s":"mean","x":2,"y":2},{"s":"mean","x":3,"y":3},{"s":"mean","x":4,"y":4},{"s":"mean","x":5,"y":6.5},{"s":"mean","x":6,"y":7},{"s":"mean","x":7,"y":9},{"s":"mean","x":8,"y":12},{"s":"mean","x":9,"y":50},{"s":"mean","x":10,"y":20},{"s":"mean","x":11,"y":110},{"s":"mean","x":12,"y":250},{"s":"mean","x":13,"y":150},{"s":"mean","x":14,"y":400},{"s":"mean","x":15,"y":300},{"s":"mean","x":16,"y":700},{"s":"mean","x":17,"y":500},{"s":"mean","x":18,"y":2700},{"s":"mean","x":19,"y":1500},{"s":"mean","x":20,"y":6000},{"s":"mean","x":21,"y":40000},{"s":"mean","x":22,"y":3000},{"s":"mean","x":23,"y":20000},{"s":"mean","x":24,"y":250000},{"s":"mean","x":25,"y":10000},{"s":"mean","x":26,"y":2000000},{"s":"mean","x":27,"y":60000},{"s":"mean","x":28,"y":2000000},{"s":"mean","x":29,"y":200000},{"s":"mean","x":30,"y":2000000},{"s":"mean","x":31,"y":100000},{"s":"mean","x":32,"y":2000000},{"s":"mean","x":33,"y":50000},{"s":"mean","x":34,"y":2000000},{"s":"mean","x":36,"y":300000},{"s":"mean","x":38,"y":2000000},
{"s":"median","x":1,"y":1.5},{"s":"median","x":2,"y":2},{"s":"median","x":3,"y":3},{"s":"median","x":4,"y":4},{"s":"median","x":5,"y":5},{"s":"median","x":6,"y":6},{"s":"median","x":7,"y":7},{"s":"median","x":8,"y":8},{"s":"median","x":9,"y":10},{"s":"median","x":10,"y":10},{"s":"median","x":11,"y":22},{"s":"median","x":12,"y":21},{"s":"median","x":13,"y":29},{"s":"median","x":14,"y":30},{"s":"median","x":15,"y":35},{"s":"median","x":16,"y":37},{"s":"median","x":17,"y":45},{"s":"median","x":18,"y":30},{"s":"median","x":19,"y":60},{"s":"median","x":20,"y":185},{"s":"median","x":21,"y":63},{"s":"median","x":22,"y":700},{"s":"median","x":23,"y":100},{"s":"median","x":24,"y":23},{"s":"median","x":25,"y":25},{"s":"median","x":26,"y":33000},{"s":"median","x":27,"y":2000},{"s":"median","x":28,"y":700},{"s":"median","x":29,"y":8000},{"s":"median","x":30,"y":33000},{"s":"median","x":31,"y":3000},{"s":"median","x":32,"y":300},{"s":"median","x":33,"y":240},{"s":"median","x":34,"y":240},{"s":"median","x":35,"y":240},{"s":"median","x":36,"y":38000},{"s":"median","x":37,"y":200000},{"s":"median","x":38,"y":900000},{"s":"median","x":39,"y":700000},{"s":"median","x":40,"y":15000},{"s":"median","x":41,"y":500000},{"s":"median","x":42,"y":15000},
{"s":"2ᴹᶜ","x":1,"y":2},{"s":"2ᴹᶜ","x":1.5,"y":2.83},{"s":"2ᴹᶜ","x":2,"y":4},{"s":"2ᴹᶜ","x":2.5,"y":5.66},{"s":"2ᴹᶜ","x":3,"y":8},{"s":"2ᴹᶜ","x":4,"y":16},{"s":"2ᴹᶜ","x":5,"y":32},{"s":"2ᴹᶜ","x":6,"y":64},{"s":"2ᴹᶜ","x":7,"y":128},{"s":"2ᴹᶜ","x":8,"y":256},{"s":"2ᴹᶜ","x":9,"y":512},{"s":"2ᴹᶜ","x":10,"y":1024},{"s":"2ᴹᶜ","x":11,"y":2048},{"s":"2ᴹᶜ","x":12,"y":4096},{"s":"2ᴹᶜ","x":13,"y":8192},{"s":"2ᴹᶜ","x":14,"y":16384},{"s":"2ᴹᶜ","x":15,"y":32768},{"s":"2ᴹᶜ","x":16,"y":65536},{"s":"2ᴹᶜ","x":17,"y":131072},{"s":"2ᴹᶜ","x":18,"y":262144},{"s":"2ᴹᶜ","x":19,"y":524288},{"s":"2ᴹᶜ","x":20,"y":1048576},
{"s":"g(Mc)","x":2.45,"y":1},{"s":"g(Mc)","x":3,"y":1.44},{"s":"g(Mc)","x":4,"y":2.48},{"s":"g(Mc)","x":5,"y":4.05},{"s":"g(Mc)","x":6,"y":6.3},{"s":"g(Mc)","x":8,"y":14.3},{"s":"g(Mc)","x":10,"y":29.8},{"s":"g(Mc)","x":12,"y":58.6},{"s":"g(Mc)","x":15,"y":149},{"s":"g(Mc)","x":20,"y":605},{"s":"g(Mc)","x":25,"y":2140},{"s":"g(Mc)","x":30,"y":6870},{"s":"g(Mc)","x":35,"y":20650},{"s":"g(Mc)","x":40,"y":56900},{"s":"g(Mc)","x":45,"y":151000},{"s":"g(Mc)","x":50,"y":384000},{"s":"g(Mc)","x":55,"y":940000},{"s":"g(Mc)","x":60,"y":2200000}
],
"hist":[
{"s":"N = 999","x0":1,"x1":10,"f":0.5},{"s":"N = 999","x0":10,"x1":100,"f":0.196},{"s":"N = 999","x0":100,"x1":1000,"f":0.091},{"s":"N = 999","x0":1000,"x1":10000,"f":0.048},{"s":"N = 999","x0":10000,"x1":100000,"f":0.033},{"s":"N = 999","x0":100000,"x1":1000000,"f":0.021},{"s":"N = 999","x0":1000000,"x1":10000000,"f":0.0235},{"s":"N = 999","x0":10000000,"x1":100000000,"f":0.0137},{"s":"N = 999","x0":100000000,"x1":1000000000,"f":0.0085},
{"s":"N = 99","x0":1,"x1":10,"f":0.74},{"s":"N = 99","x0":10,"x1":100,"f":0.14},{"s":"N = 99","x0":100,"x1":1000,"f":0.044},{"s":"N = 99","x0":1000,"x1":10000,"f":0.0128},{"s":"N = 99","x0":10000,"x1":100000,"f":0.00195},{"s":"N = 99","x0":100000,"x1":1000000,"f":0.00039}
]
},
"spacing":22,
"bounds":"full",
"resolve":{"scale":{"x":"independent","y":"independent","color":"independent","strokeDash":"independent","stroke":"independent"},"legend":{"color":"independent","strokeDash":"independent","stroke":"independent"}},
"hconcat":[
{"spacing":111,"bounds":"flush",
 "resolve":{"scale":{"x":"independent","y":"independent","color":"independent","strokeDash":"independent","stroke":"independent"},"legend":{"color":"independent","strokeDash":"independent","stroke":"independent"}},
 "vconcat":[
 {"width":245,"height":172,
  "title":{"text":"T vs Mc","offset":-0.5},
  "layer":[
   {"data":{"name":"ptsA"},"mark":{"type":"point","shape":"cross","filled":true,"color":"black","size":12,"clip":true,"opacity":1},
    "encoding":{
     "x":{"field":"x","type":"quantitative","scale":{"type":"log","domain":[1,100]},"axis":{"orient":"bottom","values":[1,10,100],"format":"d","ticks":false,"tickSize":0,"title":"Mc","titleY":28,"titleBaseline":"alphabetic"}},
     "y":{"field":"y","type":"quantitative","scale":{"type":"log","domain":[1,100000]},"axis":{"orient":"left","values":[1,10,100,1000,10000,100000],"ticks":false,"tickSize":0,"labelExpr":"'10'+['⁰','¹','²','³','⁴','⁵','⁶'][round(log(datum.value)/LN10)]","title":"T","titleX":-33,"titleBaseline":"alphabetic"}}}},
   {"data":{"name":"curA"},"mark":{"type":"line","clip":true,"strokeWidth":1.5},
    "encoding":{
     "x":{"field":"x","type":"quantitative","scale":{"type":"log","domain":[1,100]},"axis":{"orient":"bottom","values":[1,10,100],"labels":false,"tickSize":-7,"title":null}},
     "y":{"field":"y","type":"quantitative","scale":{"type":"log","domain":[1,100000]},"axis":{"orient":"left","values":[1,10,100,1000,10000,100000],"labels":false,"tickSize":-7,"title":null}},
     "color":{"field":"s","type":"nominal","scale":{"domain":["y = Mc","y = 2Mc","y = 3Mc","y = g(Mc)"],"range":["#FFA500","#1E9E1E","#FF0000","#670748"]},"legend":{"title":null,"orient":"top-left","offset":0,"labelFontSize":17,"symbolSize":144,"rowPadding":1.5,"padding":3}},
     "strokeDash":{"field":"s","type":"nominal","scale":{"domain":["y = Mc","y = 2Mc","y = 3Mc","y = g(Mc)"],"range":[[6,3],[1,0],[6,3,1.5,3,1.5,3],[7,3,2,3]]},"legend":{"title":null,"orient":"top-left","offset":0,"labelFontSize":17,"symbolSize":144,"rowPadding":1.5,"padding":3}}}},
   {"data":{"values":[{}]},"mark":{"type":"text","text":"(a)","align":"left","baseline":"alphabetic","fontSize":20,"font":"Liberation Sans"},
    "encoding":{
     "x":{"datum":0.413,"type":"quantitative","scale":{"type":"log","domain":[1,100]},"axis":{"orient":"top","values":[1,10,100],"labels":false,"tickSize":-7,"title":null}},
     "y":{"datum":0.1875,"type":"quantitative","scale":{"type":"log","domain":[1,100000]},"axis":{"orient":"right","values":[1,10,100,1000,10000,100000],"labels":false,"tickSize":-7,"title":null}}}},
   {"data":{"values":[{}]},"mark":{"type":"point","opacity":0},
    "encoding":{
     "x":{"datum":1,"type":"quantitative","scale":{"type":"log","domain":[1,100]},"axis":{"orient":"bottom","values":[2,3,4,5,6,7,8,9,20,30,40,50,60,70,80,90],"labels":false,"tickSize":-4,"title":null}},
     "y":{"datum":1,"type":"quantitative","scale":{"type":"log","domain":[1,100000]},"axis":{"orient":"left","values":[2,3,4,5,6,7,8,9,20,30,40,50,60,70,80,90,200,300,400,500,600,700,800,900,2000,3000,4000,5000,6000,7000,8000,9000,20000,30000,40000,50000,60000,70000,80000,90000],"labels":false,"tickSize":-4,"title":null}}}},
   {"data":{"values":[{}]},"mark":{"type":"point","opacity":0},
    "encoding":{
     "x":{"datum":1,"type":"quantitative","scale":{"type":"log","domain":[1,100]},"axis":{"orient":"top","values":[2,3,4,5,6,7,8,9,20,30,40,50,60,70,80,90],"labels":false,"tickSize":-4,"title":null}},
     "y":{"datum":1,"type":"quantitative","scale":{"type":"log","domain":[1,100000]},"axis":{"orient":"right","values":[2,3,4,5,6,7,8,9,20,30,40,50,60,70,80,90,200,300,400,500,600,700,800,900,2000,3000,4000,5000,6000,7000,8000,9000,20000,30000,40000,50000,60000,70000,80000,90000],"labels":false,"tickSize":-4,"title":null}}}}
  ],
  "resolve":{"axis":{"x":"independent","y":"independent"}}
 },
 {"width":256,"height":176,
  "title":{"text":"Maximum cycle","subtitle":"N=99, 10⁴ networks","offset":-1,"subtitlePadding":7},
  "layer":[
   {"data":{"name":"ptsB"},"mark":{"type":"point","shape":"cross","filled":true,"color":"black","size":16,"clip":true,"opacity":1},
    "encoding":{
     "x":{"field":"x","type":"quantitative","scale":{"type":"log","domain":[1,30]},"axis":{"orient":"bottom","values":[1,10],"format":"d","ticks":false,"tickSize":0,"title":"Mc","titleY":26,"titleBaseline":"alphabetic"}},
     "y":{"field":"y","type":"quantitative","scale":{"type":"log","domain":[1,100000]},"axis":{"orient":"left","values":[1,10,100,1000,10000,100000],"ticks":false,"tickSize":0,"labelExpr":"'10'+['⁰','¹','²','³','⁴','⁵','⁶'][round(log(datum.value)/LN10)]","title":"Tmax","titleX":-29,"titleBaseline":"alphabetic"}}}},
   {"data":{"name":"curB"},"mark":{"type":"line","clip":true,"strokeWidth":1.5},
    "encoding":{
     "x":{"field":"x","type":"quantitative","scale":{"type":"log","domain":[1,30]},"axis":{"orient":"bottom","values":[1,10],"labels":false,"tickSize":-7,"title":null}},
     "y":{"field":"y","type":"quantitative","scale":{"type":"log","domain":[1,100000]},"axis":{"orient":"left","values":[1,10,100,1000,10000,100000],"labels":false,"tickSize":-7,"title":null}},
     "color":{"field":"s","type":"nominal","scale":{"domain":["mean","median","2ᴹᶜ","g(Mc)"],"range":["#1E9E1E","#0000FF","#FF4040","#670748"]},"legend":{"title":null,"orient":"top-left","offset":0,"labelFontSize":16,"symbolSize":169,"rowPadding":0,"padding":2}},
     "strokeDash":{"field":"s","type":"nominal","scale":{"domain":["mean","median","2ᴹᶜ","g(Mc)"],"range":[[6,4],[1,0],[1.5,3],[7,3,2,3]]},"legend":{"title":null,"orient":"top-left","offset":0,"labelFontSize":16,"symbolSize":169,"rowPadding":0,"padding":2}}}},
   {"data":{"values":[{}]},"mark":{"type":"text","text":"(b)","align":"left","baseline":"alphabetic","fontSize":20,"font":"Liberation Sans"},
    "encoding":{
     "x":{"datum":0.535,"type":"quantitative","scale":{"type":"log","domain":[1,30]},"axis":{"orient":"top","values":[1,10],"labels":false,"tickSize":-7,"title":null}},
     "y":{"datum":0.237,"type":"quantitative","scale":{"type":"log","domain":[1,100000]},"axis":{"orient":"right","values":[1,10,100,1000,10000,100000],"labels":false,"tickSize":-7,"title":null}}}},
   {"data":{"values":[{}]},"mark":{"type":"point","opacity":0},
    "encoding":{
     "x":{"datum":1,"type":"quantitative","scale":{"type":"log","domain":[1,30]},"axis":{"orient":"bottom","values":[2,3,4,5,6,7,8,9,20],"labels":false,"tickSize":-4,"title":null}},
     "y":{"datum":1,"type":"quantitative","scale":{"type":"log","domain":[1,100000]},"axis":{"orient":"left","values":[2,3,4,5,6,7,8,9,20,30,40,50,60,70,80,90,200,300,400,500,600,700,800,900,2000,3000,4000,5000,6000,7000,8000,9000,20000,30000,40000,50000,60000,70000,80000,90000],"labels":false,"tickSize":-4,"title":null}}}},
   {"data":{"values":[{}]},"mark":{"type":"point","opacity":0},
    "encoding":{
     "x":{"datum":1,"type":"quantitative","scale":{"type":"log","domain":[1,30]},"axis":{"orient":"top","values":[2,3,4,5,6,7,8,9,20],"labels":false,"tickSize":-4,"title":null}},
     "y":{"datum":1,"type":"quantitative","scale":{"type":"log","domain":[1,100000]},"axis":{"orient":"right","values":[2,3,4,5,6,7,8,9,20,30,40,50,60,70,80,90,200,300,400,500,600,700,800,900,2000,3000,4000,5000,6000,7000,8000,9000,20000,30000,40000,50000,60000,70000,80000,90000],"labels":false,"tickSize":-4,"title":null}}}}
  ],
  "resolve":{"axis":{"x":"independent","y":"independent"}}
 }
]},
{"spacing":101,"bounds":"flush",
 "resolve":{"scale":{"x":"independent","y":"independent","color":"independent","strokeDash":"independent","stroke":"independent"},"legend":{"color":"independent","strokeDash":"independent","stroke":"independent"}},
 "vconcat":[
 {"width":246,"height":174,
  "title":{"text":"Maximum cycle","subtitle":"N=999, 10³ networks","offset":-4.5,"subtitlePadding":8},
  "layer":[
   {"data":{"name":"ptsC"},"mark":{"type":"point","shape":"cross","filled":true,"color":"black","size":16,"clip":true,"opacity":1},
    "encoding":{
     "x":{"field":"x","type":"quantitative","scale":{"type":"log","domain":[1,100]},"axis":{"orient":"bottom","values":[1,10,100],"format":"d","ticks":false,"tickSize":0,"title":"Mc","titleY":28,"titleBaseline":"alphabetic"}},
     "y":{"field":"y","type":"quantitative","scale":{"type":"log","domain":[1,1000000]},"axis":{"orient":"left","values":[1,10,100,1000,10000,100000,1000000],"ticks":false,"tickSize":0,"labelExpr":"'10'+['⁰','¹','²','³','⁴','⁵','⁶'][round(log(datum.value)/LN10)]","title":"Tmax","titleX":-33,"titleBaseline":"alphabetic"}}}},
   {"data":{"name":"curC"},"mark":{"type":"line","clip":true,"strokeWidth":1.5},
    "encoding":{
     "x":{"field":"x","type":"quantitative","scale":{"type":"log","domain":[1,100]},"axis":{"orient":"bottom","values":[1,10,100],"labels":false,"tickSize":-7,"title":null}},
     "y":{"field":"y","type":"quantitative","scale":{"type":"log","domain":[1,1000000]},"axis":{"orient":"left","values":[1,10,100,1000,10000,100000,1000000],"labels":false,"tickSize":-7,"title":null}},
     "color":{"field":"s","type":"nominal","scale":{"domain":["mean","median","2ᴹᶜ","g(Mc)"],"range":["#1E9E1E","#0000FF","#FF4040","#670748"]},"legend":{"title":null,"orient":"top-left","offset":0,"labelFontSize":16,"symbolSize":169,"rowPadding":0,"padding":2}},
     "strokeDash":{"field":"s","type":"nominal","scale":{"domain":["mean","median","2ᴹᶜ","g(Mc)"],"range":[[6,4],[1,0],[1.5,3],[7,3,2,3]]},"legend":{"title":null,"orient":"top-left","offset":0,"labelFontSize":16,"symbolSize":169,"rowPadding":0,"padding":2}}}},
   {"data":{"values":[{}]},"mark":{"type":"text","text":"(c)","align":"left","baseline":"alphabetic","fontSize":20,"font":"Liberation Sans"},
    "encoding":{
     "x":{"datum":0.784,"type":"quantitative","scale":{"type":"log","domain":[1,100]},"axis":{"orient":"top","values":[1,10,100],"labels":false,"tickSize":-7,"title":null}},
     "y":{"datum":0.147,"type":"quantitative","scale":{"type":"log","domain":[1,1000000]},"axis":{"orient":"right","values":[1,10,100,1000,10000,100000,1000000],"labels":false,"tickSize":-7,"title":null}}}},
   {"data":{"values":[{}]},"mark":{"type":"point","opacity":0},
    "encoding":{
     "x":{"datum":1,"type":"quantitative","scale":{"type":"log","domain":[1,100]},"axis":{"orient":"bottom","values":[2,3,4,5,6,7,8,9,20,30,40,50,60,70,80,90],"labels":false,"tickSize":-4,"title":null}},
     "y":{"datum":1,"type":"quantitative","scale":{"type":"log","domain":[1,1000000]},"axis":{"orient":"left","values":[2,3,4,5,6,7,8,9,20,30,40,50,60,70,80,90,200,300,400,500,600,700,800,900,2000,3000,4000,5000,6000,7000,8000,9000,20000,30000,40000,50000,60000,70000,80000,90000,200000,300000,400000,500000,600000,700000,800000,900000],"labels":false,"tickSize":-4,"title":null}}}},
   {"data":{"values":[{}]},"mark":{"type":"point","opacity":0},
    "encoding":{
     "x":{"datum":1,"type":"quantitative","scale":{"type":"log","domain":[1,100]},"axis":{"orient":"top","values":[2,3,4,5,6,7,8,9,20,30,40,50,60,70,80,90],"labels":false,"tickSize":-4,"title":null}},
     "y":{"datum":1,"type":"quantitative","scale":{"type":"log","domain":[1,1000000]},"axis":{"orient":"right","values":[2,3,4,5,6,7,8,9,20,30,40,50,60,70,80,90,200,300,400,500,600,700,800,900,2000,3000,4000,5000,6000,7000,8000,9000,20000,30000,40000,50000,60000,70000,80000,90000,200000,300000,400000,500000,600000,700000,800000,900000],"labels":false,"tickSize":-4,"title":null}}}}
  ],
  "resolve":{"axis":{"x":"independent","y":"independent"}}
 },
 {"spacing":6,"bounds":"flush",
  "resolve":{"scale":{"x":"independent","y":"independent","color":"independent","strokeDash":"independent","stroke":"independent"},"legend":{"color":"independent","strokeDash":"independent","stroke":"independent"}},
  "hconcat":[
  {"width":1,"height":1,"view":{"stroke":null},"data":{"values":[{}]},"mark":{"type":"point","opacity":0}},
  {"width":241,"height":181,
   "title":{"text":"Tmax distributions","offset":0},
   "layer":[
    {"data":{"name":"hist"},"mark":{"type":"rect","filled":false,"strokeWidth":1.5,"strokeOpacity":0.85,"clip":true},
     "encoding":{
      "x":{"field":"x0","type":"quantitative","scale":{"type":"log","domain":[1,10000000000]},"axis":{"orient":"bottom","values":[1,10,100,1000,10000,100000,1000000,10000000,100000000,1000000000,10000000000],"ticks":false,"tickSize":0,"labelExpr":"'10'+['⁰','¹','²','³','⁴','⁵','⁶','⁷','⁸','⁹','¹⁰'][round(log(datum.value)/LN10)]","title":"Tmax","titleY":34,"titleBaseline":"alphabetic"}},
      "x2":{"field":"x1"},
      "y":{"field":"f","type":"quantitative","scale":{"type":"log","domain":[0.0001,1]},"axis":{"orient":"left","values":[0.001,0.01,0.1,1],"ticks":false,"tickSize":0,"labelExpr":"datum.value > 0.5 ? '10⁰' : datum.value > 0.05 ? '10⁻¹' : datum.value > 0.005 ? '10⁻²' : '10⁻³'","title":"Frequence","titleX":-32,"titleBaseline":"alphabetic"}},
      "y2":{"datum":0.0001},
      "stroke":{"field":"s","type":"nominal","scale":{"domain":["N = 999","N = 99"],"range":["#0000FF","#FFA500"]},"legend":{"title":null,"orient":"top-right","offset":12,"labelFontSize":17,"symbolSize":121,"rowPadding":0,"padding":3}}}},
    {"data":{"values":[{}]},"mark":{"type":"text","text":"(d)","align":"left","baseline":"alphabetic","fontSize":20,"font":"Liberation Sans"},
     "encoding":{
      "x":{"datum":0.0069,"type":"quantitative","scale":{"type":"log","domain":[1,10000000000]},"axis":{"orient":"bottom","values":[1,10,100,1000,10000,100000,1000000,10000000,100000000,1000000000],"labels":false,"tickSize":-7,"title":null}},
      "y":{"datum":0.000024,"type":"quantitative","scale":{"type":"log","domain":[0.0001,1]},"axis":{"orient":"left","values":[0.001,0.01,0.1,1],"labels":false,"tickSize":-7,"title":null}}}},
    {"data":{"values":[{}]},"mark":{"type":"point","opacity":0},
     "encoding":{
      "x":{"datum":1,"type":"quantitative","scale":{"type":"log","domain":[1,10000000000]},"axis":{"orient":"top","values":[1,10,100,1000,10000,100000,1000000,10000000,100000000,1000000000],"labels":false,"tickSize":-7,"title":null}},
      "y":{"datum":1,"type":"quantitative","scale":{"type":"log","domain":[0.0001,1]},"axis":{"orient":"right","values":[0.001,0.01,0.1,1],"labels":false,"tickSize":-7,"title":null}}}},
    {"data":{"values":[{}]},"mark":{"type":"point","opacity":0},
     "encoding":{
      "x":{"datum":1,"type":"quantitative","scale":{"type":"log","domain":[1,10000000000]},"axis":{"orient":"bottom","values":[2,3,4,5,6,7,8,9,20,30,40,50,60,70,80,90,200,300,400,500,600,700,800,900,2000,3000,4000,5000,6000,7000,8000,9000,20000,30000,40000,50000,60000,70000,80000,90000,2e5,3e5,4e5,5e5,6e5,7e5,8e5,9e5,2e6,3e6,4e6,5e6,6e6,7e6,8e6,9e6,2e7,3e7,4e7,5e7,6e7,7e7,8e7,9e7,2e8,3e8,4e8,5e8,6e8,7e8,8e8,9e8,2e9,3e9,4e9,5e9,6e9,7e9,8e9,9e9],"labels":false,"tickSize":-4,"title":null}},
      "y":{"datum":1,"type":"quantitative","scale":{"type":"log","domain":[0.0001,1]},"axis":{"orient":"left","values":[2e-4,3e-4,4e-4,5e-4,6e-4,7e-4,8e-4,9e-4,0.002,0.003,0.004,0.005,0.006,0.007,0.008,0.009,0.02,0.03,0.04,0.05,0.06,0.07,0.08,0.09,0.2,0.3,0.4,0.5,0.6,0.7,0.8,0.9],"labels":false,"tickSize":-4,"title":null}}}},
    {"data":{"values":[{}]},"mark":{"type":"point","opacity":0},
     "encoding":{
      "x":{"datum":1,"type":"quantitative","scale":{"type":"log","domain":[1,10000000000]},"axis":{"orient":"top","values":[2,3,4,5,6,7,8,9,20,30,40,50,60,70,80,90,200,300,400,500,600,700,800,900,2000,3000,4000,5000,6000,7000,8000,9000,20000,30000,40000,50000,60000,70000,80000,90000,2e5,3e5,4e5,5e5,6e5,7e5,8e5,9e5,2e6,3e6,4e6,5e6,6e6,7e6,8e6,9e6,2e7,3e7,4e7,5e7,6e7,7e7,8e7,9e7,2e8,3e8,4e8,5e8,6e8,7e8,8e8,9e8,2e9,3e9,4e9,5e9,6e9,7e9,8e9,9e9],"labels":false,"tickSize":-4,"title":null}},
      "y":{"datum":1,"type":"quantitative","scale":{"type":"log","domain":[0.0001,1]},"axis":{"orient":"right","values":[2e-4,3e-4,4e-4,5e-4,6e-4,7e-4,8e-4,9e-4,0.002,0.003,0.004,0.005,0.006,0.007,0.008,0.009,0.02,0.03,0.04,0.05,0.06,0.07,0.08,0.09,0.2,0.3,0.4,0.5,0.6,0.7,0.8,0.9],"labels":false,"tickSize":-4,"title":null}}}}
   ],
   "resolve":{"axis":{"x":"independent","y":"independent"}}
  }
 ]}
]}
]
}
